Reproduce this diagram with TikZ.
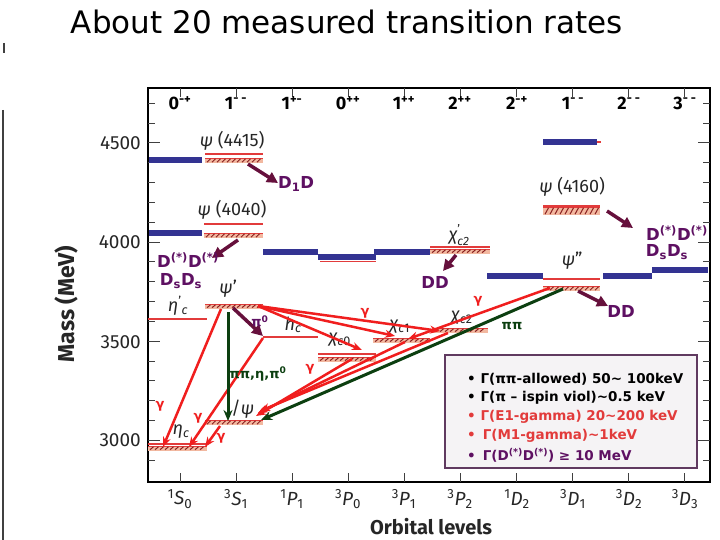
\documentclass[tikz,border=0pt]{standalone}
\usepackage{fontspec}
\setmainfont{Fira Sans}
\newfontfamily\cfont{DejaVu Sans}
\usetikzlibrary{arrows.meta}
\definecolor{barblue}{HTML}{333392}
\definecolor{lvlred}{HTML}{E23B3B}
\definecolor{bandfill}{HTML}{F2B8A0}
\definecolor{hatchcol}{HTML}{8A2020}
\definecolor{decayp}{HTML}{66103C}
\definecolor{txtp}{HTML}{5E1062}
\definecolor{arrred}{HTML}{F01E1E}
\definecolor{arrgreen}{HTML}{0C3F10}
\definecolor{legbg}{HTML}{F5F3F5}
\definecolor{legframe}{HTML}{603A60}
\definecolor{tickgrey}{HTML}{404040}
\newcommand{\hatchband}[4]{%
  \fill[bandfill] (#1,#3) rectangle (#2,#3+#4);
  \draw[lvlred,line width=0.8pt] (#1,#3) -- (#2,#3);
  \pgfmathsetmacro\hbA{#1+2}\pgfmathsetmacro\hbB{#1+7}\pgfmathsetmacro\hbC{#2-5}%
  \foreach \hx in {\hbA,\hbB,...,\hbC}{\draw[hatchline] (\hx,#3+#4-0.8) -- ++(3.5,-#4+1.6);}%
}
\newcommand{\primesub}[1]{\raisebox{-4.5pt}{\fontsize{12}{8}\selectfont\shortstack[l]{'\\\textit{#1}}}}
\tikzset{
  bluebar/.style={barblue, line width=5.5pt},
  redlevel/.style={lvlred, line width=2.2pt},
  hatchline/.style={hatchcol, line width=1pt},
  dwave/.style={decayp, line width=3.5pt, -{Triangle[length=11pt,width=11pt]}},
  gam/.style={arrred, line width=2.5pt, -{Stealth[length=10pt,width=8pt]}},
  pipi/.style={arrgreen, line width=3pt, -{Stealth[length=11pt,width=9pt]}},
  glabel/.style={text=arrred, font=\cfont\bfseries\fontsize{13}{13}\selectfont, inner sep=0pt},
  plabel/.style={text=txtp, font=\cfont\bfseries\fontsize{16.5}{16.5}\selectfont, inner sep=0pt},
  grlabel/.style={text=arrgreen, font=\cfont\bfseries\fontsize{13}{13}\selectfont, inner sep=0pt},
  statelabel/.style={font=\fontsize{18}{18}\selectfont, inner sep=0pt, text=black!85},
  axnum/.style={font=\fontsize{19}{19}\selectfont, inner sep=0pt, anchor=east, text=black!85},
  jpc/.style={font=\bfseries\fontsize{18}{18}\selectfont, inner sep=0pt},
  orb/.style={font=\fontsize{19}{19}\selectfont, inner sep=0pt, text=black!85},
  legline/.style={font=\cfont\bfseries\fontsize{13.5}{13.5}\selectfont, inner sep=0pt, anchor=west},
}
\begin{document}
\begin{tikzpicture}[x=1pt,y=-1pt]
\useasboundingbox (0,0) rectangle (720,540);
\fill[white] (0,0) rectangle (720,540);
% title
\node[font=\cfont\fontsize{31}{31}\selectfont, inner sep=0pt] (title) at (347,22) {About 20 measured transition rates};
% left slide marks
\draw[tickgrey, line width=1.3pt] (4,43) -- (4,53);
\draw[tickgrey, line width=1.3pt] (3,110) -- (3,540);
% frame
\draw[black, line width=1.2pt] (148,88) rectangle (710,482);
% mass ticks
\foreach \m in {29,...,47}{
  \pgfmathsetmacro\yy{143+(45-\m)*19.83}
  \pgfmathparse{mod(\m,5)==0 ? 12 : 7}\let\tl\pgfmathresult
  \draw[tickgrey, line width=1pt] (148,\yy) -- ++(\tl,0);
  \draw[tickgrey, line width=1pt] (710,\yy) -- ++(-\tl,0);
}
\node[axnum] (m4500) at (141,143) {4500};
\node[axnum] (m4000) at (141,242) {4000};
\node[axnum] (m3500) at (141,342) {3500};
\node[axnum] (m3000) at (141,440) {3000};
% column ticks and labels
\foreach \k in {0,...,9}{
  \pgfmathsetmacro\cx{180+56.1*\k}
  \draw[tickgrey, line width=1pt] (\cx,88) -- ++(0,9);
  \draw[tickgrey, line width=1pt] (\cx,482) -- ++(0,-9);
}
\node[jpc] (j0) at (180,103) {0\textsuperscript{-+}};
\node[jpc] (j1) at (236,103) {1\textsuperscript{- -}};
\node[jpc] (j2) at (292,103) {1\textsuperscript{+-}};
\node[jpc] (j3) at (348,103) {0\textsuperscript{++}};
\node[jpc] (j4) at (404,103) {1\textsuperscript{++}};
\node[jpc] (j5) at (460,103) {2\textsuperscript{++}};
\node[jpc] (j6) at (517,103) {2\textsuperscript{-+}};
\node[jpc] (j7) at (573,103) {1\textsuperscript{- -}};
\node[jpc] (j8) at (629,103) {2\textsuperscript{- -}};
\node[jpc] (j9) at (685,103) {3\textsuperscript{- -}};
\node[orb] (o0) at (180,499) {\textsuperscript{1}\textit{S}\textsubscript{0}};
\node[orb] (o1) at (236,499) {\textsuperscript{3}\textit{S}\textsubscript{1}};
\node[orb] (o2) at (292,499) {\textsuperscript{1}\textit{P}\textsubscript{1}};
\node[orb] (o3) at (348,499) {\textsuperscript{3}\textit{P}\textsubscript{0}};
\node[orb] (o4) at (404,499) {\textsuperscript{3}\textit{P}\textsubscript{1}};
\node[orb] (o5) at (460,499) {\textsuperscript{3}\textit{P}\textsubscript{2}};
\node[orb] (o6) at (517,499) {\textsuperscript{1}\textit{D}\textsubscript{2}};
\node[orb] (o7) at (573,499) {\textsuperscript{3}\textit{D}\textsubscript{1}};
\node[orb] (o8) at (629,499) {\textsuperscript{3}\textit{D}\textsubscript{2}};
\node[orb] (o9) at (685,499) {\textsuperscript{3}\textit{D}\textsubscript{3}};
\node[font=\bfseries\fontsize{20}{20}\selectfont, inner sep=0pt, text=black!85] (xlab) at (431,527) {Orbital levels};
\node[font=\bfseries\fontsize{23}{23}\selectfont, inner sep=0pt, text=black!85, rotate=90] (ylab) at (66,304) {Mass (MeV)};
% blue predicted bars
\draw[bluebar] (149,160) -- (202,160);
\draw[bluebar] (149,233) -- (202,233);
\draw[bluebar] (263,252) -- (318,252);
\draw[lvlred, line width=1pt] (320,261) -- (376,261);
\draw[bluebar] (318,257) -- (376,257);
\draw[bluebar] (374,252) -- (430,252);
\draw[bluebar] (487,276) -- (543,276);
\draw[bluebar] (543,142) -- (597,142);
\draw[lvlred, line width=1.5pt] (597,142) -- (601,142);
\draw[bluebar] (603,276) -- (652,276);
\draw[bluebar] (652,270) -- (708,270);
% experimental levels
\draw[redlevel] (205,154) -- (263,154);
\hatchband{205}{263}{158}{5}
\draw[redlevel] (204,224) -- (263,224);
\hatchband{204}{263}{233}{5}
\hatchband{205}{263}{304}{4.5}
\hatchband{205}{263}{420}{5}
\draw[redlevel] (148,319) -- (207,319);
\draw[redlevel] (148,444) -- (207,444);
\hatchband{148}{207}{446}{4.5}
\draw[redlevel] (263,337) -- (318,337);
\draw[redlevel] (318,354) -- (376,354);
\hatchband{318}{376}{357}{4.5}
\hatchband{373}{430}{338}{4.5}
\hatchband{433}{488}{328}{4.5}
\draw[redlevel] (430,247) -- (490,247);
\hatchband{430}{490}{249}{4.5}
\draw[redlevel] (543,206) -- (600,206);
\hatchband{543}{600}{207}{8}
\draw[redlevel] (543,279) -- (600,279);
\hatchband{543}{600}{286}{5}
% state labels
\node[statelabel] (l4415) at (232,141) {\textit{ψ} (4415)};
\node[statelabel] (l4040) at (232,210) {\textit{ψ} (4040)};
\node[statelabel] (l4160) at (572,187) {\textit{ψ} (4160)};
\node[statelabel] (lpsip) at (228,289) {\textit{ψ}'};
\node[statelabel] (lpsipp) at (572,261) {\textit{ψ}''};
\node[statelabel] (letacp) at (178,306) {\textit{η}\textsuperscript{'}\textsubscript{\textit{c}}};
\node[statelabel] (letac) at (181,432) {\textit{η}\textsubscript{\textit{c}}};
\node[statelabel] (lhc) at (293,325) {\textit{h}\textsubscript{\textit{c}}};
\node[statelabel] (lchi0) at (340,340) {\textit{χ}\textsubscript{\textit{c}0}};
\node[statelabel] (lchi1) at (400,327) {\textit{χ}\textsubscript{\textit{c}1}};
\node[statelabel] (lchi2) at (462,318) {\textit{χ}\textsubscript{\textit{c}2}};
\node[statelabel] (lchi2p) at (459,235) {\textit{χ}\primesub{c2}};
\node[statelabel] (ljpsi) at (240,409) {J/\textit{ψ}};
% arrow end points
\coordinate (a4415) at (248,164);  \coordinate (b4415) at (278,183);
\coordinate (a4040) at (238,240);  \coordinate (b4040) at (212,258);
\coordinate (achip) at (456,255);  \coordinate (bchip) at (443,271);
\coordinate (a4160) at (607,211);  \coordinate (b4160) at (633,228);
\coordinate (apsipp) at (578,291); \coordinate (bpsipp) at (608,306);
\coordinate (psipA) at (221,309);  \coordinate (etacA) at (163,447);
\coordinate (hcA) at (263,338);    \coordinate (etacB) at (189,447);
\coordinate (jpsiA) at (220,426);  \coordinate (etacC) at (205,447);
\coordinate (psipB) at (233,308);  \coordinate (hcB) at (263,336);
\coordinate (psipC) at (228,312);  \coordinate (jpsiB) at (228,421);
\coordinate (psipR) at (258,306);
\coordinate (chi0T) at (362,350);  \coordinate (chi1T) at (395,336); \coordinate (chi2T) at (440,331);
\coordinate (psippA) at (550,288); \coordinate (chi1U) at (408,339);
\coordinate (chi2S) at (448,333);  \coordinate (chi1S) at (405,342); \coordinate (chi0S) at (352,359);
\coordinate (jpsiC) at (260,411);  \coordinate (jpsiD) at (258,413); \coordinate (jpsiE) at (256,416);
\coordinate (psippB) at (563,289); \coordinate (jpsiF) at (261,420);
% red gamma transitions
\draw[gam] (psipA) -- (etacA);
\draw[gam] (hcA) -- (etacB);
\draw[gam] (jpsiA) -- (etacC);
\draw[gam] (psipR) -- (chi0T);
\draw[gam] (psipR) -- (chi1T);
\draw[gam] (psipR) -- (chi2T);
\draw[gam] (psippA) -- (chi1U);
\draw[gam] (chi2S) -- (jpsiC);
\draw[gam] (chi1S) -- (jpsiD);
\draw[gam] (chi0S) -- (jpsiE);
% green hadronic
\draw[pipi] (psipC) -- (jpsiB);
\draw[pipi] (psippB) -- (jpsiF);
% purple
\draw[dwave] (psipB) -- (hcB);
\draw[dwave] (a4415) -- (b4415);
\draw[dwave] (a4040) -- (b4040);
\draw[dwave] (achip) -- (bchip);
\draw[dwave] (a4160) -- (b4160);
\draw[dwave] (apsipp) -- (bpsipp);
% decay labels
\node[plabel, anchor=west] (tD1D) at (278,184) {D\textsubscript{1}D};
\node[plabel] (tDD1) at (188,260) {D\textsuperscript{(*)}D\textsuperscript{(*)}};
\node[plabel] (tDs1) at (181,281) {D\textsubscript{s}D\textsubscript{s}};
\node[plabel] (tDD2) at (435,282) {DD};
\node[plabel] (tDD3) at (677,233) {D\textsuperscript{(*)}D\textsuperscript{(*)}};
\node[plabel] (tDs3) at (667,252) {D\textsubscript{s}D\textsubscript{s}};
\node[plabel] (tDD4) at (621,311) {DD};
\node[text=txtp, font=\cfont\bfseries\fontsize{13}{13}\selectfont, inner sep=0pt] (tpi0) at (260,321) {π\textsuperscript{0}};
\node[grlabel] (tpipi1) at (258,374) {ππ,η,π\textsuperscript{0}};
\node[grlabel] (tpipi2) at (512,326) {ππ};
\node[glabel] (g1) at (160,406) {γ};
\node[glabel] (g2) at (198,418) {γ};
\node[glabel] (g3) at (221,438) {γ};
\node[glabel] (g4) at (365,313) {γ};
\node[glabel] (g5) at (478,301) {γ};
\node[glabel] (g6) at (310,369) {γ};
% legend
\draw[legframe, fill=legbg, line width=1.2pt] (445,355) rectangle (697,468);
\node[legline] (L1) at (467,379) {• Γ(ππ-allowed) 50\textasciitilde{} 100keV};
\node[legline] (L2) at (467,398) {• Γ(π – ispin viol)\textasciitilde0.5 keV};
\node[legline, text=lvlred] (L3) at (467,417) {• Γ(E1-gamma) 20\textasciitilde200 keV};
\node[legline, text=lvlred] (L4) at (467,436) {•\, Γ(M1-gamma)\textasciitilde1keV};
\node[legline, text=txtp] (L5) at (467,455) {•\, Γ(D\textsuperscript{(*)}D\textsuperscript{(*)}) ≥ 10 MeV};
\end{tikzpicture}
\end{document}
